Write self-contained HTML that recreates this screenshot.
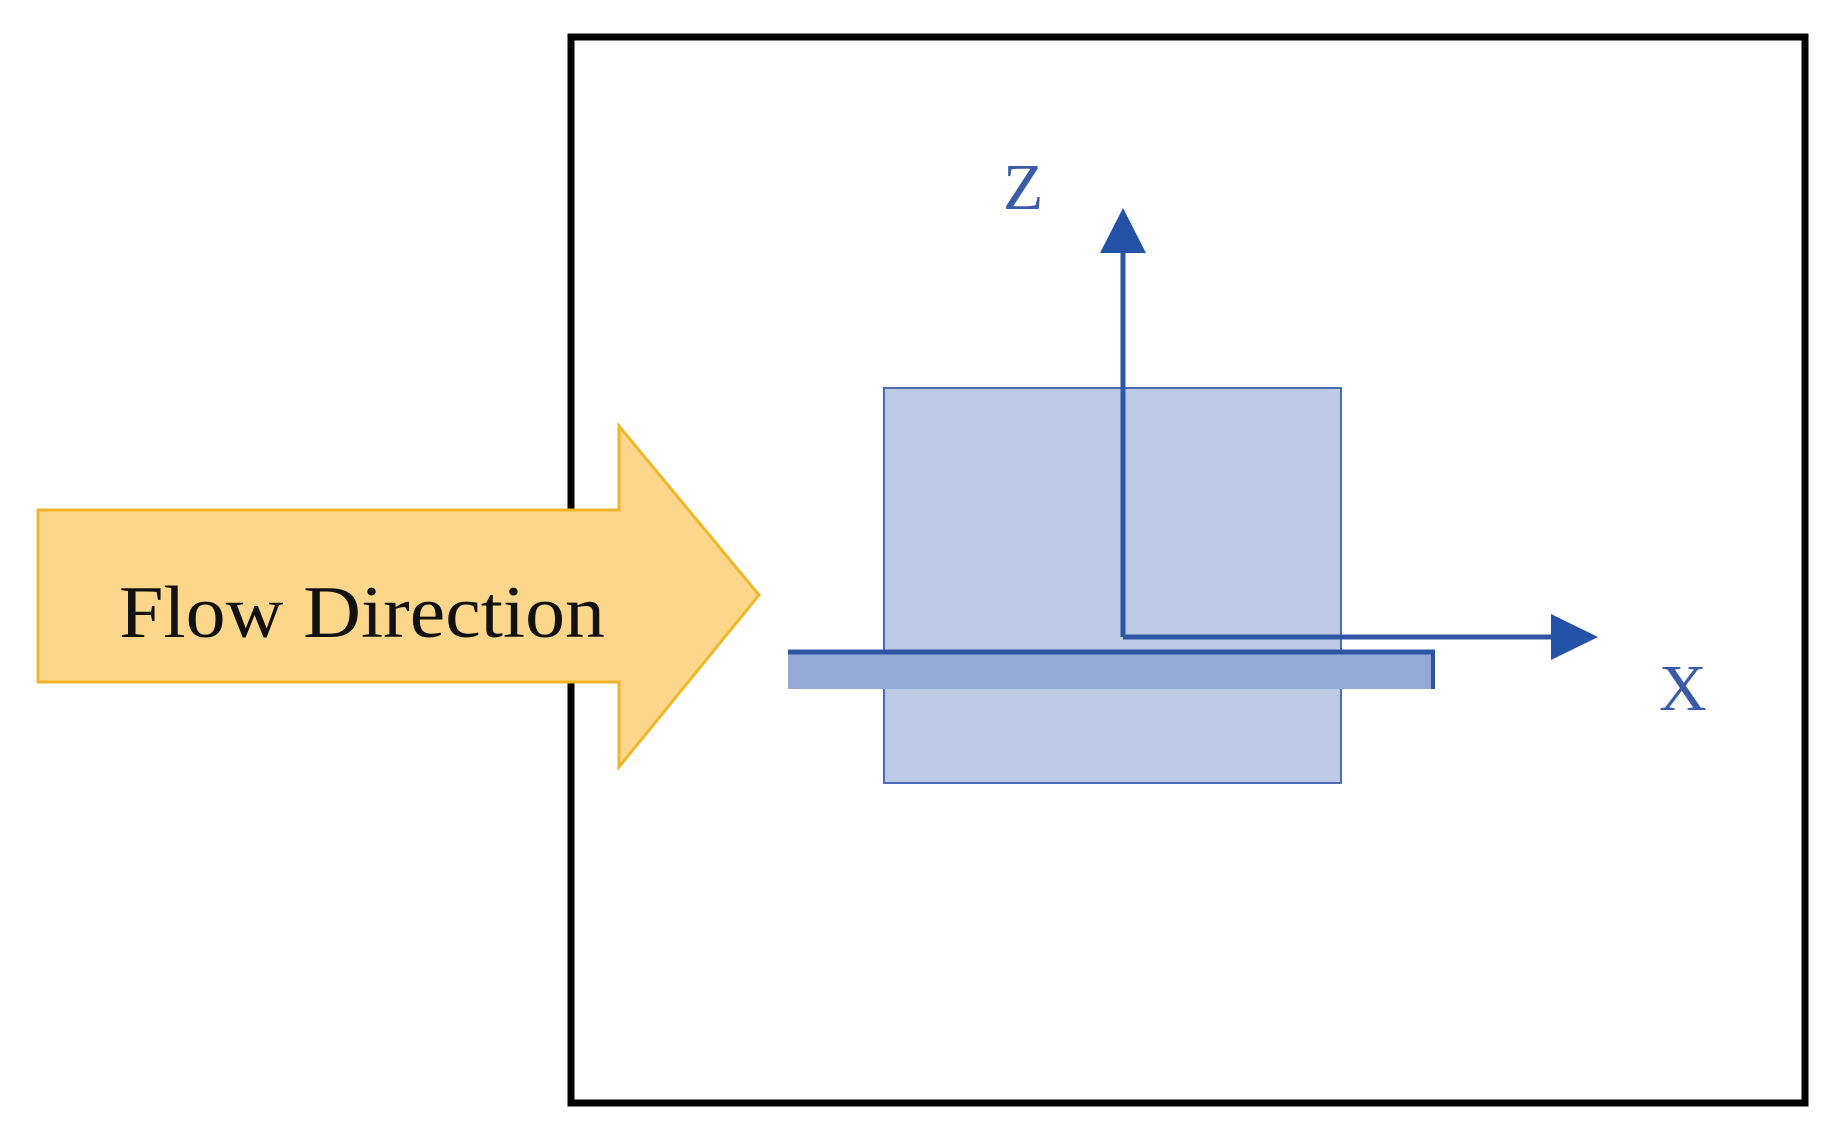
<!DOCTYPE html>
<html><head><meta charset="utf-8"><style>html,body{margin:0;padding:0;background:#fff}svg{display:block}</style></head>
<body>
<svg width="1848" height="1138" viewBox="0 0 1848 1138" xmlns="http://www.w3.org/2000/svg">
<g transform="translate(-5,-3)">
<rect x="576" y="40" width="1234" height="1066" fill="none" stroke="#000" stroke-width="7"/>
<rect x="889" y="391" width="457" height="395" fill="#bccae4" stroke="#4a6cb5" stroke-width="2"/>
<rect x="793" y="653" width="647" height="39" fill="#94aad3"/>
<line x1="793" y1="655" x2="1440" y2="655" stroke="#2f55a5" stroke-width="5"/>
<line x1="1438" y1="655" x2="1438" y2="692" stroke="#2f55a5" stroke-width="4"/>
<line x1="1128" y1="640" x2="1128" y2="250" stroke="#2f55a5" stroke-width="5"/>
<polygon points="1128,211 1105,256 1151,256" fill="#2352a6"/>
<line x1="1128" y1="640" x2="1560" y2="640" stroke="#2f55a5" stroke-width="5"/>
<polygon points="1603,640 1556,617 1556,663" fill="#2352a6"/>
<text x="1008" y="212" font-family="Liberation Serif, serif" font-size="66" fill="#3a5ca8">Z</text>
<text x="1664" y="713" font-family="Liberation Serif, serif" font-size="66" fill="#3a5ca8">X</text>
<polygon points="43,513 624,513 624,429 764,598 624,770 624,685 43,685" fill="#fcd68a" stroke="#f0b72a" stroke-width="3"/>
<text x="124" y="640" font-family="Liberation Serif, serif" font-size="74" fill="#111" textLength="486" lengthAdjust="spacingAndGlyphs">Flow Direction</text>
</g>
</svg>
</body></html>
